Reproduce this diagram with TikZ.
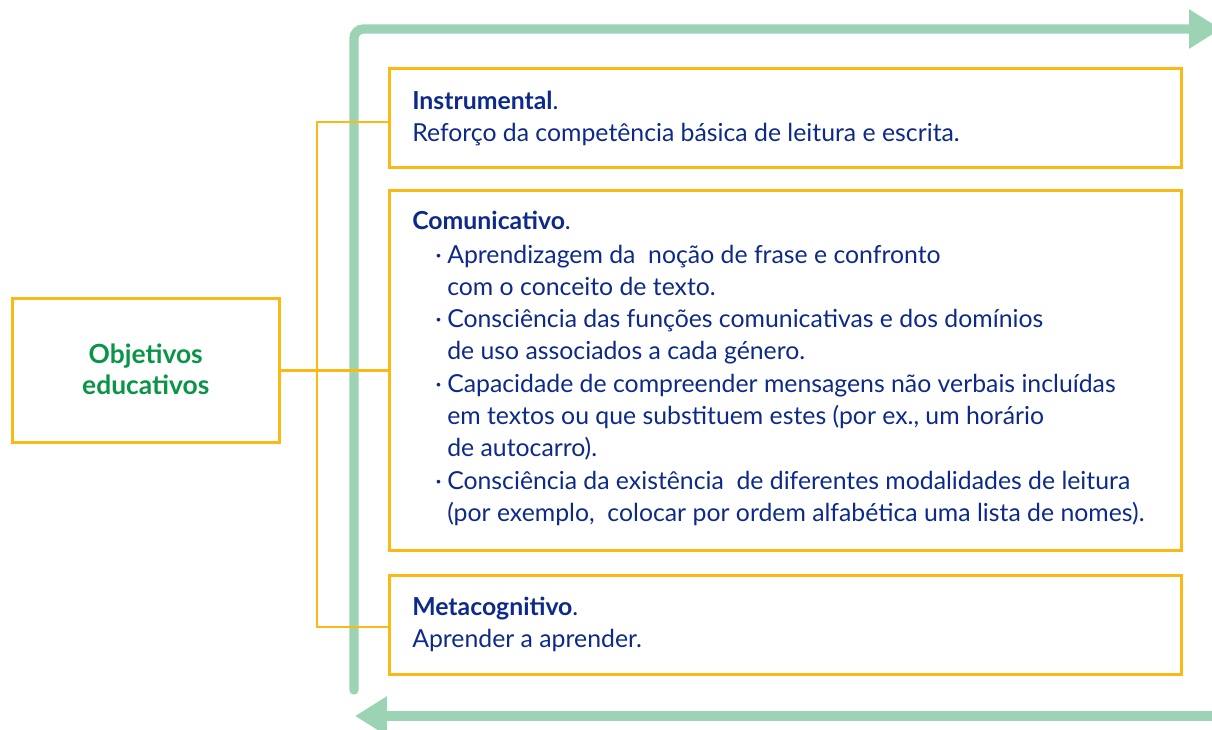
\documentclass[tikz,border=0pt]{standalone}
\usepackage{fontspec}
\setmainfont{Lato}
\usetikzlibrary{arrows.meta}
\definecolor{gline}{HTML}{9BD3B4}
\definecolor{orng}{HTML}{FDB913}
\definecolor{navy}{HTML}{0D2A8A}
\definecolor{dgreen}{HTML}{0A9447}
\tikzset{
  obox/.style={draw=orng, line width=1.9pt, inner sep=0pt, anchor=north west},
  olink/.style={draw=orng, line width=1.9pt},
  gflow/.style={draw=gline, line width=7pt, -{Triangle[length=24pt,width=28pt]}},
  txt/.style={anchor=base west, inner sep=0pt, text=navy, font=\fontsize{18.6}{24.2}\selectfont},
  ttl/.style={txt, font=\fontsize{18.6}{24.2}\selectfont\bfseries},
}
\newcommand{\bul}{\makebox[9pt][l]{·}}
\newcommand{\ind}{\hspace*{9pt}}
\begin{document}
\begin{tikzpicture}[x=0.75pt,y=-0.75pt]
\useasboundingbox (0,0) rectangle (1212,729);
\clip (0,0) rectangle (1212,729);
% green flow lines
\coordinate (gstart) at (354,690);
\coordinate (gcorner) at (354,29);
\coordinate (gend) at (1221,29);
\draw[gflow, line cap=round, rounded corners=7pt] (gstart) -- (gcorner) -- (gend);
\coordinate (bstart) at (1230,716);
\coordinate (bend) at (355,716);
\draw[gflow] (bstart) -- (bend);
% boxes
\node[obox, minimum width=200.25pt, minimum height=108pt] (obj) at (11,297) {};
\node[text=dgreen, font=\fontsize{19.8}{23.25}\selectfont\bfseries, align=center] at ([yshift=1pt]obj.center) {Objetivos\\educativos};
\node[obox, minimum width=594pt, minimum height=74.25pt] (instr) at (388,67) {};
\node[obox, minimum width=594pt, minimum height=270pt] (comm) at (388,189) {};
\node[obox, minimum width=594pt, minimum height=74.25pt] (meta) at (388,574) {};
% connectors
\coordinate (j) at (317,369);
\draw[olink] (obj.east) -- (comm.west);
\draw[olink] ([yshift=-3pt]instr.west) -| (j) |- ([yshift=-1.5pt]meta.west);
% texts
\node[ttl] (t1) at (412,109) {Instrumental\textmd{.}};
\node[txt] (t1b) at (412,141) {Reforço da competência básica de leitura e escrita.};
\node[ttl] (t2) at (412,229) {Comunicativo\textmd{.}};
\node[txt] (l1) at (435,263) {\bul Aprendizagem da\ \ noção de frase e confronto};
\node[txt] (l2) at (435,295.3) {\ind com o conceito de texto.};
\node[txt] (l3) at (435,327.6) {\bul Consciência das funções comunicativas e dos domínios};
\node[txt] (l4) at (435,359.9) {\ind de uso associados a cada género.};
\node[txt] (l5) at (435,392.2) {\bul Capacidade de compreender mensagens não verbais incluídas};
\node[txt] (l6) at (435,424.5) {\ind em textos ou que substituem estes (por ex., um horário};
\node[txt] (l7) at (435,456.8) {\ind de autocarro).};
\node[txt] (l8) at (435,489.1) {\bul Consciência da existência\ \ de diferentes modalidades de leitura};
\node[txt] (l9) at (435,521.4) {\ind (por exemplo,\ \ colocar por ordem alfabética uma lista de nomes).};
\node[ttl] (t3) at (412,615) {Metacognitivo\textmd{.}};
\node[txt] (t3b) at (412,647) {Aprender a aprender.};
\end{tikzpicture}
\end{document}
